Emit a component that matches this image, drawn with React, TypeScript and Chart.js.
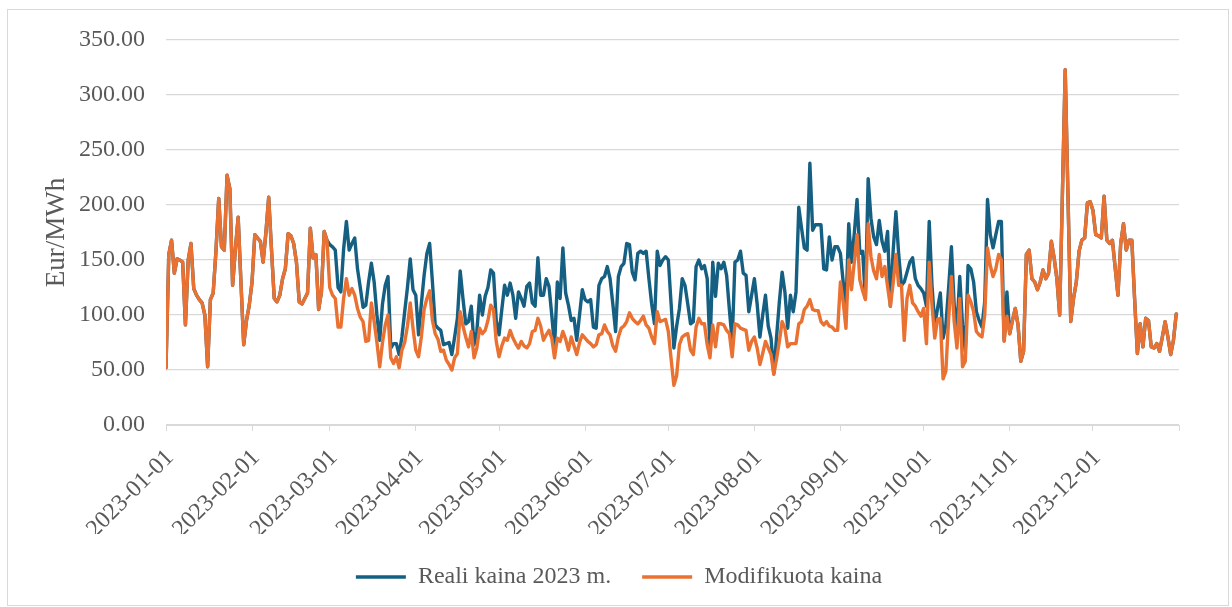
import React, { useEffect, useRef } from "react";
import { Chart, registerables } from "chart.js";

Chart.register(...registerables);

// ---------- labels ----------
const seriesRealName = "Reali kaina 2023 m.";
const seriesModName = "Modifikuota kaina";
const yAxisTitle = "Eur/MWh";
const monthStartDays = [0, 31, 59, 90, 120, 151, 181, 212, 243, 273, 304, 334];
const monthLabels = [
  "2023-01-01", "2023-02-01", "2023-03-01", "2023-04-01", "2023-05-01", "2023-06-01",
  "2023-07-01", "2023-08-01", "2023-09-01", "2023-10-01", "2023-11-01", "2023-12-01",
];
const yMin = 0;
const yMax = 350;
const yStep = 50;

// ---------- Modifikuota kaina (daily, Eur/MWh) ----------
const modJan = [52, 155, 168, 138, 151, 150, 148, 91, 150, 165, 124, 118, 114, 111, 100, 53, 114, 120, 158, 206, 162, 159, 227, 215, 127, 160, 189, 130, 73, 95, 109];
const modFeb = [130, 173, 170, 167, 148, 175, 207, 160, 115, 112, 118, 133, 142, 174, 172, 165, 148, 112, 110, 115, 120, 179, 152, 155, 105, 121, 176, 168];
const modMar = [125, 118, 115, 89, 89, 115, 133, 118, 124, 118, 106, 98, 94, 76, 77, 111, 94, 75, 53, 75, 91, 100, 61, 56, 62, 52, 68, 75, 90, 111, 88];
const modApr = [68, 62, 80, 105, 115, 122, 95, 83, 78, 67, 68, 59, 55, 50, 61, 65, 103, 90, 80, 71, 85, 61, 70, 88, 83, 86, 95, 109, 105, 76];
const modMay = [62, 72, 79, 77, 86, 79, 74, 70, 76, 72, 70, 74, 85, 86, 97, 90, 77, 82, 86, 79, 61, 79, 76, 85, 78, 68, 80, 72, 64, 75, 82];
const modJun = [79, 76, 74, 71, 73, 82, 83, 91, 85, 82, 72, 67, 80, 88, 90, 94, 102, 97, 94, 92, 95, 99, 91, 88, 80, 74, 103, 94, 95, 96];
const modJul = [85, 60, 36, 45, 73, 80, 82, 83, 68, 64, 89, 97, 92, 92, 73, 61, 91, 71, 92, 92, 91, 86, 83, 62, 92, 91, 88, 87, 86, 68, 76];
const modAug = [80, 70, 55, 65, 76, 70, 64, 46, 60, 76, 94, 88, 71, 74, 74, 74, 92, 94, 105, 108, 114, 105, 104, 104, 94, 91, 94, 90, 89, 86, 86];
const modSep = [130, 112, 88, 150, 123, 148, 173, 132, 122, 114, 183, 153, 140, 133, 155, 135, 144, 126, 108, 129, 155, 127, 127, 77, 115, 127, 111, 108, 103, 99];
const modOct = [106, 74, 148, 109, 79, 96, 97, 42, 49, 97, 135, 94, 70, 115, 53, 58, 118, 112, 103, 85, 82, 80, 100, 161, 145, 135, 142, 155, 150, 76, 99];
const modNov = [83, 95, 106, 91, 58, 67, 155, 159, 133, 130, 123, 130, 141, 133, 138, 167, 152, 133, 100, 211, 323, 208, 94, 115, 130, 158, 168, 170, 202, 203];
const modDec = [195, 173, 172, 170, 208, 168, 165, 168, 143, 118, 165, 183, 159, 168, 168, 115, 65, 92, 71, 97, 95, 71, 70, 74, 67, 80, 94, 80, 64, 77, 101];

// ---------- Reali kaina 2023 m. (daily, Eur/MWh) ----------
// In Jan, Feb, Nov and Dec the real price line lies exactly under the modified one.
const realJan = [52, 155, 168, 138, 151, 150, 148, 91, 150, 165, 124, 118, 114, 111, 100, 53, 114, 120, 158, 206, 162, 159, 227, 215, 127, 160, 189, 130, 73, 95, 109];
const realFeb = [130, 173, 170, 167, 148, 175, 207, 160, 115, 112, 118, 133, 142, 174, 172, 165, 148, 112, 110, 115, 120, 179, 152, 155, 105, 121, 176, 168];
const realMar = [164, 162, 159, 125, 121, 160, 185, 159, 165, 170, 142, 125, 107, 109, 130, 147, 130, 100, 77, 110, 127, 135, 70, 74, 74, 64, 80, 103, 125, 151, 123];
const realApr = [118, 82, 110, 136, 156, 165, 130, 91, 88, 86, 73, 74, 75, 64, 80, 97, 140, 115, 92, 94, 108, 73, 85, 118, 100, 117, 125, 141, 138, 95];
const realMay = [82, 105, 127, 118, 129, 118, 97, 121, 115, 108, 126, 129, 111, 108, 152, 118, 118, 133, 126, 100, 71, 130, 115, 161, 120, 109, 95, 97, 77, 100, 123];
const realJun = [114, 112, 114, 89, 88, 127, 133, 135, 144, 133, 110, 85, 135, 144, 147, 165, 164, 139, 132, 156, 158, 156, 158, 133, 110, 92, 158, 145, 150, 153];
const realJul = [150, 110, 70, 90, 106, 133, 127, 110, 92, 94, 144, 150, 142, 145, 133, 70, 148, 117, 147, 142, 148, 136, 105, 76, 148, 150, 158, 138, 136, 103, 118];
const realAug = [133, 110, 80, 100, 118, 90, 79, 47, 80, 112, 139, 121, 88, 118, 103, 121, 198, 179, 161, 159, 238, 177, 182, 182, 182, 142, 141, 171, 150, 162, 162];
const realSep = [156, 130, 106, 183, 148, 174, 205, 156, 158, 115, 224, 188, 171, 164, 186, 167, 158, 176, 108, 158, 194, 155, 127, 130, 139, 148, 152, 133, 127, 124];
const realOct = [120, 108, 185, 127, 91, 106, 120, 79, 91, 125, 162, 109, 88, 135, 91, 67, 145, 142, 130, 103, 95, 89, 112, 205, 173, 161, 173, 185, 185, 77, 121];
const realNov = [83, 95, 106, 91, 58, 67, 155, 159, 133, 130, 123, 130, 141, 133, 138, 167, 152, 133, 100, 211, 323, 208, 94, 115, 130, 158, 168, 170, 202, 203];
const realDec = [195, 173, 172, 170, 208, 168, 165, 168, 143, 118, 165, 183, 159, 168, 168, 115, 65, 92, 71, 97, 95, 71, 70, 74, 67, 80, 94, 80, 64, 77, 101];

const COLOR_REAL = "#156082";
const COLOR_MOD = "#E97132";
const TEXT = "#595959";
const GRID = "#D9D9D9";
const FONT = "'Liberation Serif', 'Times New Roman', serif";

export default function App() {
  const canvasRef = useRef<HTMLCanvasElement | null>(null);

  useEffect(() => {
    const canvas = canvasRef.current;
    if (!canvas) return;
    const modified = [
      ...modJan, ...modFeb, ...modMar, ...modApr, ...modMay, ...modJun,
      ...modJul, ...modAug, ...modSep, ...modOct, ...modNov, ...modDec,
    ];
    const real = [
      ...realJan, ...realFeb, ...realMar, ...realApr, ...realMay, ...realJun,
      ...realJul, ...realAug, ...realSep, ...realOct, ...realNov, ...realDec,
    ];
    const toPoints = (arr: number[]) => arr.map((v, i) => ({ x: i, y: v }));
    const tickDays = [...monthStartDays, 365];

    const chart = new Chart(canvas, {
      type: "line",
      data: {
        datasets: [
          {
            label: seriesRealName,
            data: toPoints(real),
            borderColor: COLOR_REAL,
            backgroundColor: COLOR_REAL,
            borderWidth: 3.4,
            pointRadius: 0,
            borderJoinStyle: "round",
            borderCapStyle: "round",
            tension: 0,
            order: 1,
            yAxisID: "y",
          },
          {
            label: seriesModName,
            data: toPoints(modified),
            borderColor: COLOR_MOD,
            backgroundColor: COLOR_MOD,
            borderWidth: 3.4,
            pointRadius: 0,
            borderJoinStyle: "round",
            borderCapStyle: "round",
            tension: 0,
            order: 0,
            yAxisID: "y",
          },
        ],
      },
      options: {
        responsive: false,
        animation: false,
        events: [],
        layout: { padding: { left: 6, right: 0, top: 40, bottom: 8 } },
        plugins: {
          tooltip: { enabled: false },
          legend: {
            position: "bottom",
            labels: {
              usePointStyle: true,
              pointStyle: "line",
              pointStyleWidth: 50,
              boxHeight: 3,
              padding: 31,
              color: TEXT,
              font: { family: FONT, size: 24 },
              sort: (a: any, b: any) => a.datasetIndex - b.datasetIndex,
            },
          },
        },
        scales: {
          x: {
            type: "linear",
            min: 0,
            max: 365,
            afterBuildTicks: (scale: any) => {
              scale.ticks = tickDays.map((v) => ({ value: v }));
            },
            afterFit: (scale: any) => {
              scale.height = 109;
            },
            ticks: {
              autoSkip: false,
              maxRotation: 45,
              minRotation: 45,
              color: TEXT,
              padding: 13,
              labelOffset: 4,
              font: { family: FONT, size: 24 },
              callback: (value: any) => {
                const i = monthStartDays.indexOf(Number(value));
                return i >= 0 ? monthLabels[i] : "";
              },
            },
            grid: { drawOnChartArea: false, drawTicks: true, tickLength: 6, color: GRID },
            border: { color: GRID, width: 1 },
          },
          y: {
            position: "left",
            min: yMin,
            max: yMax,
            afterFit: (scale: any) => {
              scale.width = 160;
            },
            ticks: {
              stepSize: yStep,
              color: TEXT,
              padding: 21,
              font: { family: FONT, size: 24 },
              callback: (value: any) => Number(value).toFixed(2),
            },
            grid: { color: GRID, drawTicks: false, lineWidth: 1.3 },
            border: { display: false },
            title: {
              display: true,
              text: yAxisTitle,
              color: TEXT,
              font: { family: FONT, size: 27 },
              padding: { top: 35, bottom: 0 },
            },
          },
          // empty right-hand spacer so the plot ends where the reference ends
          spacer: {
            type: "linear",
            position: "right",
            min: 0,
            max: 1,
            afterFit: (scale: any) => {
              scale.width = 53;
            },
            ticks: { display: false },
            grid: { display: false, drawOnChartArea: false },
            border: { display: false },
          },
        },
      },
    });
    return () => chart.destroy();
  }, []);

  return (
    <div style={{ position: "absolute", left: 0, top: 0, width: 1232, height: 607, background: "#fff" }}>
      <canvas ref={canvasRef} width={1232} height={607} style={{ position: "absolute", left: 0, top: 0 }} />
      <div
        style={{
          position: "absolute",
          left: 7,
          top: 9,
          width: 1220,
          height: 595,
          border: "1px solid #D9D9D9",
          pointerEvents: "none",
        }}
      />
    </div>
  );
}
